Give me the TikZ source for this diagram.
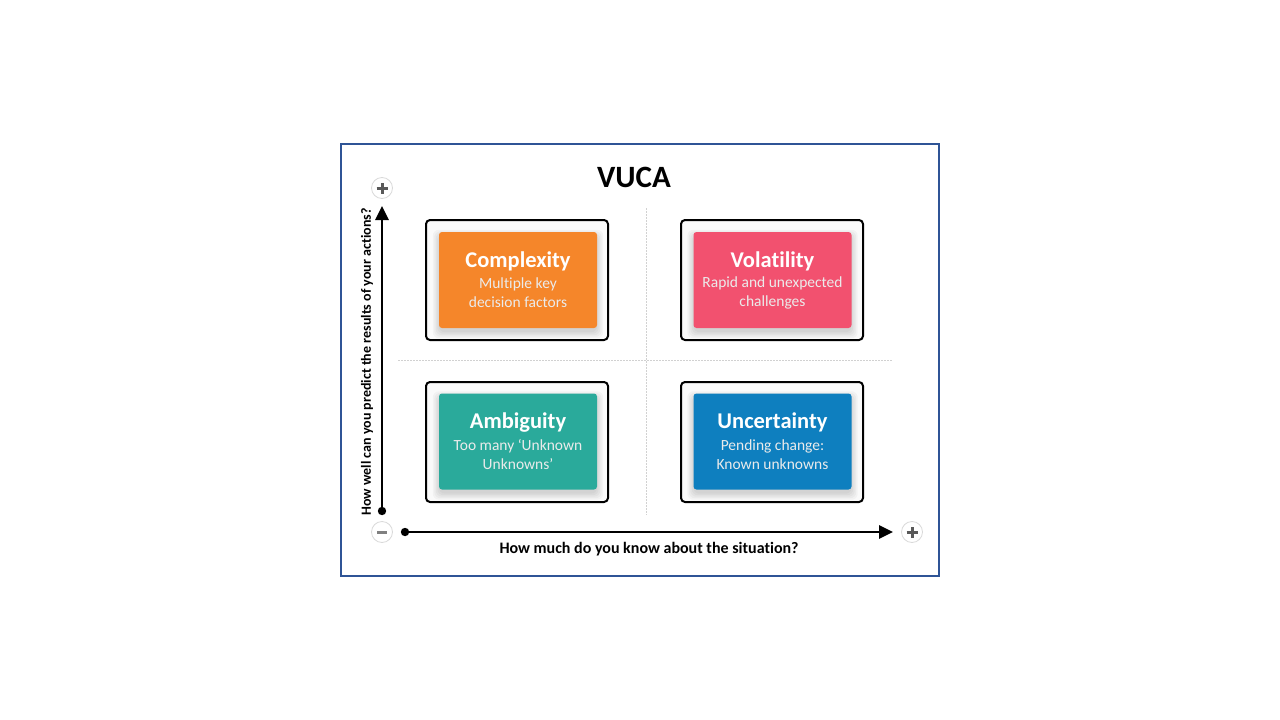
\documentclass[tikz,border=0pt]{standalone}
\usepackage{fontspec}
\setmainfont{Carlito}[Ligatures=NoCommon]
\usetikzlibrary{arrows.meta}
\definecolor{cOrange}{HTML}{F5862A}
\definecolor{cPink}{HTML}{F2516F}
\definecolor{cTeal}{HTML}{2AAA9B}
\definecolor{cBlue}{HTML}{0E7FBF}
\definecolor{cFrame}{HTML}{2F5496}
\tikzset{
  outercard/.style={draw=black, line width=2pt, rounded corners=4pt, fill=black!2, minimum width=182pt, minimum height=120pt},
  innercard/.style={rounded corners=3pt, minimum width=158pt, minimum height=96pt},
  cardtitle/.style={text=white, font=\fontsize{22.5}{25}\selectfont\bfseries},
  cardsub/.style={text=white!92!black, font=\fontsize{15.5}{19}\selectfont, align=center},
  pm/.style={circle, draw=black!15, line width=0.8pt, fill=white, minimum size=21pt, inner sep=0pt},
  pmsign/.style={draw=black!65, line width=3pt, line cap=butt},
  axisline/.style={line width=2.6pt, line cap=butt},
  grid/.style={draw=black!18, line width=0.6pt, dash pattern=on 1.5pt off 1.5pt},
  axislabel/.style={font=\fontsize{14}{16}\selectfont\bfseries},
  shadowlayer/.style={fill=black, opacity=0.03, rounded corners=6pt}
}
\newcommand{\softshadow}[1]{%
  \foreach \s in {0,1.5,3,4.5,6}{
    \fill[shadowlayer] ([xshift=-\s pt, yshift=-4pt-\s pt]#1.south west) rectangle ([xshift=\s pt, yshift=-4pt+\s pt]#1.north east);
  }}
\begin{document}
\begin{tikzpicture}[x=1pt,y=-1pt]
\useasboundingbox (0,0) rectangle (1280,720);
\draw[cFrame, line width=1.5pt] (341,144) rectangle (939,576);
\node (title) at (634,177) {\fontsize{31}{34}\selectfont\bfseries VUCA};
% grid
\draw[grid] (646,208) -- (646,515);
\draw[grid] (398,360) -- (892,360);
% cards
\node[outercard] (oc) at (517,280) {};
\node[outercard] (ov) at (772,280) {};
\node[outercard] (oa) at (517,442) {};
\node[outercard] (ou) at (772,442) {};
\node[innercard, inner sep=0pt] (pc) at (518,280) {};
\node[innercard, inner sep=0pt] (pv) at (772.5,280) {};
\node[innercard, inner sep=0pt] (pa) at (518,441.5) {};
\node[innercard, inner sep=0pt] (pu) at (772.5,441.5) {};
\softshadow{pc}
\softshadow{pv}
\softshadow{pa}
\softshadow{pu}
\node[innercard, fill=cOrange] (ic) at (518,280) {};
\node[innercard, fill=cPink] (iv) at (772.5,280) {};
\node[innercard, fill=cTeal] (ia) at (518,441.5) {};
\node[innercard, fill=cBlue] (iu) at (772.5,441.5) {};
\node[cardtitle] (tc) at (518,261) {Complexity};
\node[cardsub] (sc) at (518,293) {Multiple key\\decision factors};
\node[cardtitle] (tv) at (772.5,261) {Volatility};
\node[cardsub] (sv) at (772.5,293) {Rapid and unexpected\\challenges};
\node[cardtitle] (ta) at (518,422.5) {Ambiguity};
\node[cardsub] (sa) at (518,454.5) {Too many ‘Unknown\\Unknowns’};
\node[cardtitle] (tu) at (772.5,422.5) {Uncertainty};
\node[cardsub] (su) at (772.5,454.5) {Pending change:\\Known unknowns};
% axes
\node[pm] (yplus) at (382,188) {};
\node[pm] (minus) at (382,532) {};
\node[pm] (xplus) at (912,532) {};
\draw[pmsign] ([xshift=-5.5pt]yplus.center) -- ([xshift=5.5pt]yplus.center);
\draw[pmsign] ([yshift=-5.5pt]yplus.center) -- ([yshift=5.5pt]yplus.center);
\draw[pmsign] ([xshift=-5.5pt]xplus.center) -- ([xshift=5.5pt]xplus.center);
\draw[pmsign] ([yshift=-5.5pt]xplus.center) -- ([yshift=5.5pt]xplus.center);
\draw[pmsign, draw=black!50] ([xshift=-5pt]minus.center) -- ([xshift=5pt]minus.center);
\coordinate (ystart) at (382,511);
\coordinate (yend) at (382,206);
\coordinate (xstart) at (405,532);
\coordinate (xend) at (893,532);
\fill (ystart) circle (4.2pt);
\fill (xstart) circle (4.2pt);
\draw[axisline, -{Triangle[length=14pt,width=13pt]}] (ystart) -- (yend);
\draw[axisline, -{Triangle[length=14pt,width=13pt]}] (xstart) -- (xend);
\node[axislabel, rotate=90] (ylab) at (367,362) {How well can you predict the results of your actions?};
\node[axislabel, font=\fontsize{16}{18}\selectfont\bfseries] (xlab) at (649,549) {How much do you know about the situation?};
\end{tikzpicture}
\end{document}
